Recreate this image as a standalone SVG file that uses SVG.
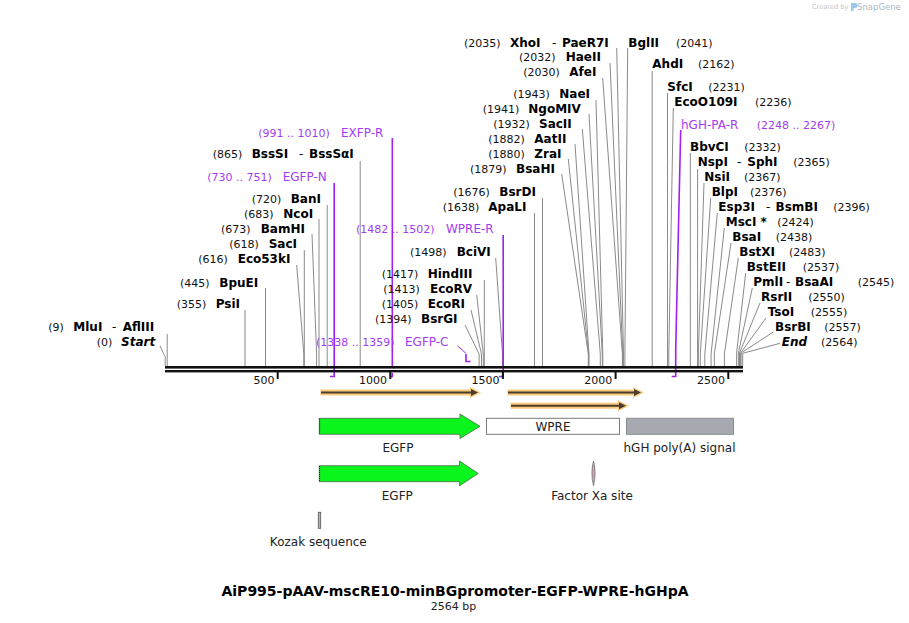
<svg xmlns="http://www.w3.org/2000/svg" width="909" height="623" viewBox="0 0 909 623">
<style>
text{font-family:"DejaVu Sans",Verdana,sans-serif}
.n{font-size:11px;fill:#111}
.e{font-size:12px;font-weight:bold;fill:#000}
.ei{font-size:12px;font-weight:bold;font-style:italic;fill:#000}
.d{font-size:12px;fill:#000}
.p{font-size:12px;fill:#a33cf0}
.pn{font-size:11px;fill:#a33cf0}
.ld{stroke:#8a8a8a;stroke-width:1;fill:none}
.pl{stroke:#a020f0;stroke-width:1.6;fill:none}
.fl{font-size:12px;fill:#222}
.glow{stroke:#fbc97a;stroke-width:6;fill:none}
.bar{stroke:#4a3f2f;stroke-width:2;fill:none}
</style>
<rect width="909" height="623" fill="#fff"/>

<g id="watermark">
<text x="812" y="9" style="font-size:6.6px;fill:#c4c4c4">Created by</text>
<path d="M851 3 h4 a2.5 2.5 0 0 1 0 5 h-1.5 v3 h-2.5 z" fill="#9cc8ea"/>
<text x="857" y="10" style="font-size:8.5px;fill:#aeb6bf">SnapGene</text>
</g>

<g id="connectors">
<path class="ld" d="M167.2 334V366"/>
<path class="ld" d="M160 346L165.2 356.7V366"/>
<path class="ld" d="M245 310V366"/>
<path class="ld" d="M265.5 288V366"/>
<path class="ld" d="M296.7 265L303.8 354V366"/>
<path class="ld" d="M304.3 250V366"/>
<path class="ld" d="M312 234L316.6 354V366"/>
<path class="ld" d="M319 219V366"/>
<path class="ld" d="M327.2 205V366"/>
<path class="ld" d="M360.2 161V366"/>
<path class="ld" d="M465 325L479.1 354V366"/>
<path class="ld" d="M471 310L481.5 354V366"/>
<path class="ld" d="M476.7 295L483.3 354V366"/>
<path class="ld" d="M484.3 280V366"/>
<path class="ld" d="M495.7 258L502.5 354V366"/>
<path class="ld" d="M534.5 213V366"/>
<path class="ld" d="M542.5 198V366"/>
<path class="ld" d="M561.7 174L588.3 354V366"/>
<path class="ld" d="M568.3 159L588.6 354V366"/>
<path class="ld" d="M575 144L589 354V366"/>
<path class="ld" d="M582.3 129L600.3 354V366"/>
<path class="ld" d="M589 114L602.3 354V366"/>
<path class="ld" d="M596 100L602.8 354V366"/>
<path class="ld" d="M602.7 78L622.4 354V366"/>
<path class="ld" d="M610 63L622.8 354V366"/>
<path class="ld" d="M616.7 48L623.5 354V366"/>
<path class="ld" d="M627.7 48L624.9 354V366"/>
<path class="ld" d="M652.2 71V366"/>
<path class="ld" d="M667.5 93V366"/>
<path class="ld" d="M673.3 108L668.8 354V366"/>
<path class="ld" d="M690.3 153V366"/>
<path class="ld" d="M697.6 169V366"/>
<path class="ld" d="M704 183L698.3 354V366"/>
<path class="ld" d="M710.7 198L700.3 354V366"/>
<path class="ld" d="M717.3 213L704.8 354V366"/>
<path class="ld" d="M724.3 228L711.1 354V366"/>
<path class="ld" d="M731 243L714.3 354V366"/>
<path class="ld" d="M738.3 258L724.4 354V366"/>
<path class="ld" d="M745.7 273L736.6 353V366"/>
<path class="ld" d="M752.3 288L738.4 353V366"/>
<path class="ld" d="M760 303L739.5 353V366"/>
<path class="ld" d="M766 318L740.6 353V366"/>
<path class="ld" d="M773.3 332L741.1 353V366"/>
<path class="ld" d="M780 343.3L742.7 353.3V366"/>
<path class="pl" d="M334.2 183V376.5H330"/>
<path class="pl" d="M392.3 138V366"/>
<path class="pl" d="M392.3 373V376.5H391"/>
<path class="pl" d="M503.2 235V376.5H499"/>
<path class="pl" style="stroke-width:1" d="M457.7 346L465.9 353.3"/>
<path class="pl" d="M466 354V361.5H470.5"/>
<path class="pl" d="M680.7 130L675.7 350V376.5H671.7"/>
</g>

<g id="axis">
<rect x="165" y="366" width="578" height="2.6" fill="#111"/>
<rect x="165" y="370" width="578" height="2.4" fill="#111"/>
<g fill="#111">
<rect x="276.7" y="372" width="2" height="7"/>
<rect x="389.3" y="372" width="2" height="7"/>
<rect x="501.9" y="372" width="2" height="7"/>
<rect x="614.6" y="372" width="2" height="7"/>
<rect x="727.3" y="372" width="2" height="7"/>
</g>
<g class="n" text-anchor="end">
<text x="274.5" y="384">500</text>
<text x="387" y="384">1000</text>
<text x="499.5" y="384">1500</text>
<text x="612.3" y="384">2000</text>
<text x="725" y="384">2500</text>
</g>
</g>

<g id="sites-left">
<g id="MluI"><text class="n" x="48.3" y="331">(9)</text><text class="e" x="73.3" y="331">MluI</text><text class="d" x="112" y="331">-</text><text class="e" x="122.7" y="331">AflIII</text></g>
<g id="Start"><text class="n" x="96.7" y="346">(0)</text><text class="ei" x="121" y="346">Start</text></g>
<g id="PsiI"><text class="n" x="176.7" y="308.3">(355)</text><text class="e" x="215.7" y="308.3">PsiI</text></g>
<g id="BpuEI"><text class="n" x="180" y="286.6">(445)</text><text class="e" x="219.3" y="286.6">BpuEI</text></g>
<g id="Eco53kI"><text class="n" x="198.3" y="262.6">(616)</text><text class="e" x="237.7" y="262.6">Eco53kI</text></g>
<g id="SacI"><text class="n" x="229.3" y="248.3">(618)</text><text class="e" x="268.7" y="248.3">SacI</text></g>
<g id="BamHI"><text class="n" x="221" y="233.3">(673)</text><text class="e" x="260.7" y="233.3">BamHI</text></g>
<g id="NcoI"><text class="n" x="244" y="218.3">(683)</text><text class="e" x="283.3" y="218.3">NcoI</text></g>
<g id="BanI"><text class="n" x="251.7" y="203.3">(720)</text><text class="e" x="290.7" y="203.3">BanI</text></g>
<g id="BssSI"><text class="n" x="212.7" y="157.6">(865)</text><text class="e" x="251.7" y="157.6">BssSI</text><text class="d" x="299" y="157.6">-</text><text class="e" x="309" y="157.6">BssSαI</text></g>
</g>

<g id="sites-mid">
<g id="BsrGI"><text class="n" x="375" y="322.6">(1394)</text><text class="e" x="421" y="322.6">BsrGI</text></g>
<g id="EcoRI"><text class="n" x="381.7" y="308.3">(1405)</text><text class="e" x="427.7" y="308.3">EcoRI</text></g>
<g id="EcoRV"><text class="n" x="383.3" y="293.3">(1413)</text><text class="e" x="430" y="293.3">EcoRV</text></g>
<g id="HindIII"><text class="n" x="381.7" y="278.3">(1417)</text><text class="e" x="427.7" y="278.3">HindIII</text></g>
<g id="BciVI"><text class="n" x="410" y="256">(1498)</text><text class="e" x="456.7" y="256">BciVI</text></g>
<g id="ApaLI"><text class="n" x="442.7" y="211">(1638)</text><text class="e" x="488.3" y="211">ApaLI</text></g>
<g id="BsrDI"><text class="n" x="453.3" y="196">(1676)</text><text class="e" x="499.3" y="196">BsrDI</text></g>
<g id="BsaHI"><text class="n" x="470" y="173.3">(1879)</text><text class="e" x="516" y="173.3">BsaHI</text></g>
<g id="ZraI"><text class="n" x="488.3" y="158.3">(1880)</text><text class="e" x="534.3" y="158.3">ZraI</text></g>
<g id="AatII"><text class="n" x="488.3" y="143.3">(1882)</text><text class="e" x="534.3" y="143.3">AatII</text></g>
<g id="SacII"><text class="n" x="493.3" y="128.3">(1932)</text><text class="e" x="539" y="128.3">SacII</text></g>
<g id="NgoMIV"><text class="n" x="482.7" y="113.3">(1941)</text><text class="e" x="528.3" y="113.3">NgoMIV</text></g>
<g id="NaeI"><text class="n" x="513.3" y="98.3">(1943)</text><text class="e" x="559.3" y="98.3">NaeI</text></g>
<g id="AfeI"><text class="n" x="523.3" y="76">(2030)</text><text class="e" x="569.3" y="76">AfeI</text></g>
<g id="HaeII"><text class="n" x="519" y="61">(2032)</text><text class="e" x="565.7" y="61">HaeII</text></g>
<g id="XhoI"><text class="n" x="464" y="46.5">(2035)</text><text class="e" x="510" y="46.5">XhoI</text><text class="d" x="552" y="46.5">-</text><text class="e" x="562" y="46.5">PaeR7I</text></g>
<g id="BglII"><text class="e" x="628.3" y="46.5">BglII</text><text class="n" x="676" y="46.5">(2041)</text></g>
</g>

<g id="sites-right">
<g id="AhdI"><text class="e" x="652.3" y="67.5">AhdI</text><text class="n" x="698" y="67.5">(2162)</text></g>
<g id="SfcI"><text class="e" x="667.3" y="91.3">SfcI</text><text class="n" x="708.3" y="91.3">(2231)</text></g>
<g id="EcoO109I"><text class="e" x="674.3" y="106.3">EcoO109I</text><text class="n" x="755" y="106.3">(2236)</text></g>
<g id="BbvCI"><text class="e" x="690" y="151">BbvCI</text><text class="n" x="744.3" y="151">(2332)</text></g>
<g id="NspI"><text class="e" x="697.7" y="166.3">NspI</text><text class="d" x="737" y="166.3">-</text><text class="e" x="747.3" y="166.3">SphI</text><text class="n" x="793.3" y="166.3">(2365)</text></g>
<g id="NsiI"><text class="e" x="704.3" y="181">NsiI</text><text class="n" x="744" y="181">(2367)</text></g>
<g id="BlpI"><text class="e" x="711.7" y="196">BlpI</text><text class="n" x="750" y="196">(2376)</text></g>
<g id="Esp3I"><text class="e" x="718.3" y="211">Esp3I</text><text class="d" x="766" y="211">-</text><text class="e" x="775.5" y="211">BsmBI</text><text class="n" x="833.3" y="211">(2396)</text></g>
<g id="MscI"><text class="e" x="725.7" y="226">MscI *</text><text class="n" x="777.3" y="226">(2424)</text></g>
<g id="BsaI"><text class="e" x="732.3" y="241">BsaI</text><text class="n" x="775.7" y="241">(2438)</text></g>
<g id="BstXI"><text class="e" x="739.3" y="256">BstXI</text><text class="n" x="789" y="256">(2483)</text></g>
<g id="BstEII"><text class="e" x="746.7" y="271">BstEII</text><text class="n" x="802.7" y="271">(2537)</text></g>
<g id="PmlI"><text class="e" x="753.3" y="286">PmlI</text><text class="d" x="786" y="286">-</text><text class="e" x="795" y="286">BsaAI</text><text class="n" x="857.7" y="286">(2545)</text></g>
<g id="RsrII"><text class="e" x="761" y="301">RsrII</text><text class="n" x="808.3" y="301">(2550)</text></g>
<g id="TsoI"><text class="e" x="767.7" y="316">TsoI</text><text class="n" x="810.7" y="316">(2555)</text></g>
<g id="BsrBI"><text class="e" x="775" y="331">BsrBI</text><text class="n" x="824.3" y="331">(2557)</text></g>
<g id="End"><text class="ei" x="781.7" y="346">End</text><text class="n" x="821" y="346">(2564)</text></g>
</g>

<g id="primers">
<g id="EGFP-N"><text class="pn" x="207.3" y="181">(730 .. 751)</text><text class="p" x="282.7" y="181">EGFP-N</text></g>
<g id="EXFP-R"><text class="pn" x="258.3" y="136.5">(991 .. 1010)</text><text class="p" x="341" y="136.5">EXFP-R</text></g>
<g id="EGFP-C"><text class="pn" x="316" y="346">(1338 .. 1359)</text><text class="p" x="405" y="346">EGFP-C</text></g>
<g id="WPRE-R"><text class="pn" x="356" y="233.3">(1482 .. 1502)</text><text class="p" x="446" y="233.3">WPRE-R</text></g>
<g id="hGH-PA-R"><text class="p" x="681" y="128.5">hGH-PA-R</text><text class="pn" x="756.7" y="128.5">(2248 .. 2267)</text></g>
</g>

<g id="primer-bars">
<g id="pbar1"><path class="glow" d="M320.5 392.5H472"/><path d="M470 387 L481 392.5 L470 398Z" fill="#fbc97a"/><path class="bar" d="M321 392.5H472"/><path d="M471 389 L478 392.5 L471 396Z" fill="#4a3f2f"/></g>
<g id="pbar2"><path class="glow" d="M507.5 392.5H635"/><path d="M633 387 L644 392.5 L633 398Z" fill="#fbc97a"/><path class="bar" d="M508 392.5H635"/><path d="M634 389 L641 392.5 L634 396Z" fill="#4a3f2f"/></g>
<g id="pbar3"><path class="glow" d="M510.5 405.7H620"/><path d="M618 400.2 L629 405.7 L618 411.2Z" fill="#fbc97a"/><path class="bar" d="M511 405.7H620"/><path d="M619 402.2 L626 405.7 L619 409.2Z" fill="#4a3f2f"/></g>
</g>

<g id="EGFP1">
<path d="M319.3 418.3H460V414L480 426.3L460 438.5V434.3H319.3Z" fill="#0af51c" stroke="#4a6a4a" stroke-width="0.8"/>
<path d="M319.6 418.5V434" stroke="#222" stroke-width="1" stroke-dasharray="1 1"/>
<text class="fl" x="398" y="452" text-anchor="middle">EGFP</text>
</g>
<g id="WPRE">
<rect x="486.5" y="418.3" width="133" height="16" fill="#fff" stroke="#7a7a7a"/>
<text class="fl" x="553" y="430.5" text-anchor="middle">WPRE</text>
</g>
<g id="hGHpA">
<rect x="626.5" y="418.3" width="107" height="16" fill="#a6aab0" stroke="#8a8d92"/>
<text class="fl" x="679.5" y="452" text-anchor="middle">hGH poly(A) signal</text>
</g>
<g id="EGFP2">
<path d="M319.3 465.7H459.5V461L478.3 473.5L459.5 485.7V481.7H319.3Z" fill="#0af51c" stroke="#4a6a4a" stroke-width="0.8"/>
<path d="M319.6 466V481.5" stroke="#222" stroke-width="1" stroke-dasharray="1 1"/>
<text class="fl" x="397.3" y="499.5" text-anchor="middle">EGFP</text>
</g>
<g id="FactorXa">
<path d="M593.5 461Q596.6 473.3 593.5 485.6Q590.4 473.3 593.5 461Z" fill="#d6a2bc" stroke="#6a6a6a" stroke-width="0.8"/>
<text class="fl" x="592" y="499.5" text-anchor="middle">Factor Xa site</text>
</g>
<g id="Kozak">
<rect x="318.3" y="512.3" width="2.4" height="16" fill="#b4b4bc" stroke="#555" stroke-width="0.8"/>
<text class="fl" x="318.3" y="546" text-anchor="middle">Kozak sequence</text>
</g>

<g id="title">
<text x="455" y="596" text-anchor="middle" style="font-size:14px;font-weight:bold;fill:#000">AiP995-pAAV-mscRE10-minBGpromoter-EGFP-WPRE-hGHpA</text>
<text x="453.5" y="610" text-anchor="middle" style="font-size:11px;fill:#222">2564 bp</text>
</g>
</svg>
